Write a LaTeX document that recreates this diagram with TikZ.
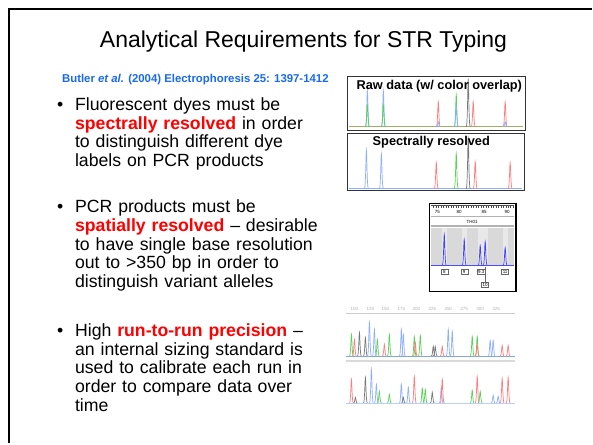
\documentclass[tikz,border=0pt]{standalone}
\usepackage{fontspec}
\setmainfont{Liberation Sans}
\definecolor{quellblau}{RGB}{25,105,245}
\definecolor{rottext}{RGB}{255,0,0}
\definecolor{pkblau}{RGB}{140,175,255}
\definecolor{pkrot}{RGB}{255,125,125}
\definecolor{pkgruen}{RGB}{90,210,90}
\definecolor{pkgrau}{RGB}{120,120,120}
\newcommand{\rot}[1]{\textcolor{rottext}{\textbf{#1}}}
% Peak: x, Grundlinie, Spitze, Farbe
\newcommand{\pk}[4]{\draw[#4, line width=0.7pt] (#1-2, #2) .. controls (#1-0.6, #2) and (#1-0.5, #3) .. (#1, #3) .. controls (#1+0.5, #3) and (#1+0.6, #2) .. (#1+2, #2);}

\begin{document}
\begin{tikzpicture}[x=1pt, y=-1pt]
  \fill [white] (0, 0) rectangle (593, 444);  % Bildgroesse
  \tikzstyle{titel}=[anchor=base, inner sep=0pt, font=\fontsize{23}{26}\selectfont]
  \tikzstyle{quelle}=[anchor=base west, inner sep=0pt, text=quellblau, font=\fontsize{11.4}{13}\selectfont\bfseries]
  \tikzstyle{punkt}=[anchor=base west, inner sep=0pt, font=\fontsize{17.7}{18.8}\selectfont]
  \tikzstyle{rumpf}=[anchor=base west, inner sep=0pt, text width=300pt, align=left, font=\fontsize{17.7}{18.8}\selectfont]
  \tikzstyle{kasten}=[draw=black!80, line width=1.2pt]
  \tikzstyle{kopf}=[anchor=base, inner sep=0pt, font=\fontsize{12.8}{14}\selectfont\bfseries]
  \tikzstyle{winzig}=[inner sep=0pt, font=\fontsize{4.5}{5}\selectfont]
  \tikzstyle{allel}=[draw=black!60, fill=white, inner sep=0.8pt, minimum width=7pt, font=\fontsize{4.5}{5}\selectfont]

  % Rahmen
  \coordinate (ro) at (593, 9);
  \coordinate (lu) at (9, 444);
  \draw[line width=2pt] (lu) |- (ro);

  \node[titel] (titel) at (304, 48) {Analytical Requirements for STR Typing};
  \node[quelle] (quelle) at (62, 83) {Butler \textit{et al.} (2004) Electrophoresis 25: 1397-1412};

  \node[punkt] (b1) at (57, 110.5) {\textbullet};
  \node[rumpf] (t1) at (75, 110.5) {Fluorescent dyes must be\\ \rot{spectrally resolved} in order\\ to distinguish different dye\\ labels on PCR products};
  \node[punkt] (b2) at (57, 213) {\textbullet};
  \node[rumpf] (t2) at (75, 213) {PCR products must be\\ \rot{spatially resolved} -- desirable\\ to have single base resolution\\ out to >350 bp in order to\\ distinguish variant alleles};
  \node[punkt] (b3) at (57, 337) {\textbullet};
  \node[rumpf] (t3) at (75, 337) {High \rot{run-to-run precision} --\\ an internal sizing standard is\\ used to calibrate each run in\\ order to compare data over\\ time};

  % Rohdaten
  \draw[pkgruen!60!pkrot, line width=0.8pt] (350, 127) -- (524, 127);
  \foreach \px/\py/\pc in {368/91/pkblau, 368/105/pkgruen, 384/91/pkblau, 384/105/pkgruen,
      439/102/pkrot, 457/95/pkgruen, 457/106/pkblau, 469/80/pkgrau, 474/102/pkrot,
      506/102/pkrot, 439/122/pkblau, 506/122/pkblau}
    \pk{\px}{127}{\py}{\pc};
  \draw[kasten] (348, 77) rectangle (526, 131);
  \node[kopf] (roh) at (440, 90) {Raw data (w/ color overlap)};

  % spektral getrennt
  \draw[pkblau, line width=0.5pt] (350, 189) -- (523, 189);
  \foreach \px/\py/\pc in {367/150/pkblau, 382/154/pkblau, 437/163/pkrot, 457/154/pkgruen,
      469/138/pkgrau, 476/162/pkrot, 511/163/pkrot}
    \pk{\px}{189}{\py}{\pc};
  \draw[kasten] (348, 134) rectangle (525, 191);
  \node[kopf] (spek) at (432, 146) {Spectrally resolved};

  % TH01
  \fill[gray!30] (432, 228) rectangle (515, 266);
  \foreach \bx in {445, 465, 481, 486, 506}
    \fill[gray!18] (\bx-2.5, 228) rectangle (\bx+2.5, 266);
  \draw[black!70, line width=0.5pt] (432, 206) -- (515, 206);
  \foreach \tx in {434, 436.5, ..., 514}
    \draw[black!70, line width=0.3pt] (\tx, 206) -- (\tx, 208);
  \foreach \tx/\tl in {438/75, 460/80, 485/85, 508/90}
    \node[winzig] (mass\tl) at (\tx, 212.5) {\tl};
  \draw[gray!60, line width=1.5pt] (432, 217) -- (515, 217);
  \node[winzig] (th01) at (473, 222) {TH01};
  \draw[gray!60, line width=1.5pt] (432, 226.5) -- (515, 226.5);
  \draw[blue!70, line width=0.4pt] (432, 266) -- (515, 266);
  \foreach \px/\py in {445/235, 465/240, 481/246, 486/242, 506/248}
    \pk{\px}{266}{\py}{blue!75};
  \node[allel] (a8) at (445, 272) {8};
  \node[allel] (a9) at (465, 272) {9};
  \node[allel] (a93) at (482, 272) {9.3};
  \node[allel] (a11) at (506, 272) {11};
  \node[allel] (a10) at (486, 285) {10};
  \coordinate (p10) at (486, 267);
  \draw[black!60, line width=0.4pt] (a10) -- (p10);
  \draw[line width=1.5pt] (430, 204) rectangle (517, 292);

  % Laufvergleich
  \draw[gray!40, line width=1.5pt] (347, 314) -- (516, 314);
  \foreach \tx/\tl in {355/100, 371/125, 386/150, 402/175, 417/200, 433/225, 449/250, 465/275, 481/300, 497/325}
    \node[winzig, text=gray!60] (lauf\tl) at (\tx, 309) {\tl};
  \foreach \px/\py/\pc in {352/335/pkgruen, 355/340/pkrot, 360/333/pkgrau, 366/338/pkgrau,
      370/323/pkblau, 375/330/pkblau, 378/340/pkgruen, 385/345/pkrot, 390/335/pkgruen,
      402/330/pkblau, 404/335/pkblau, 415/337/pkgruen, 416/343/pkrot, 421/336/pkgruen,
      434/347/pkgrau, 436/347/pkgrau, 443/347/pkrot, 449/330/pkblau, 453/332/pkblau,
      473/337/pkgruen, 478/337/pkgruen, 478/345/pkrot, 491/341/pkblau, 494/341/pkblau,
      503/346/pkrot, 509/346/pkrot}
    \pk{\px}{357}{\py}{\pc};
  \draw[cyan!50!blue!50, line width=0.6pt] (347, 357) -- (516, 357);
  \draw[gray!30, line width=2pt] (347, 361.5) -- (516, 361.5);
  \foreach \px/\py/\pc in {352/380/pkrot, 356/398/pkgrau, 366/378/pkgrau, 372/370/pkblau,
      377/385/pkblau, 380/392/pkgruen, 390/395/pkgruen, 402/385/pkblau, 404/398/pkgrau,
      409/388/pkblau, 415/377/pkrot, 423/389/pkgruen, 426/390/pkgruen, 433/393/pkgrau,
      442/388/pkblau, 443/380/pkrot, 473/391/pkgruen, 478/377/pkrot, 481/392/pkgruen,
      494/396/pkblau, 499/397/pkblau, 503/379/pkrot, 509/378/pkrot}
    \pk{\px}{404}{\py}{\pc};
  \draw[pkblau!60, line width=0.6pt] (347, 404) -- (516, 404);
\end{tikzpicture}
\end{document}
